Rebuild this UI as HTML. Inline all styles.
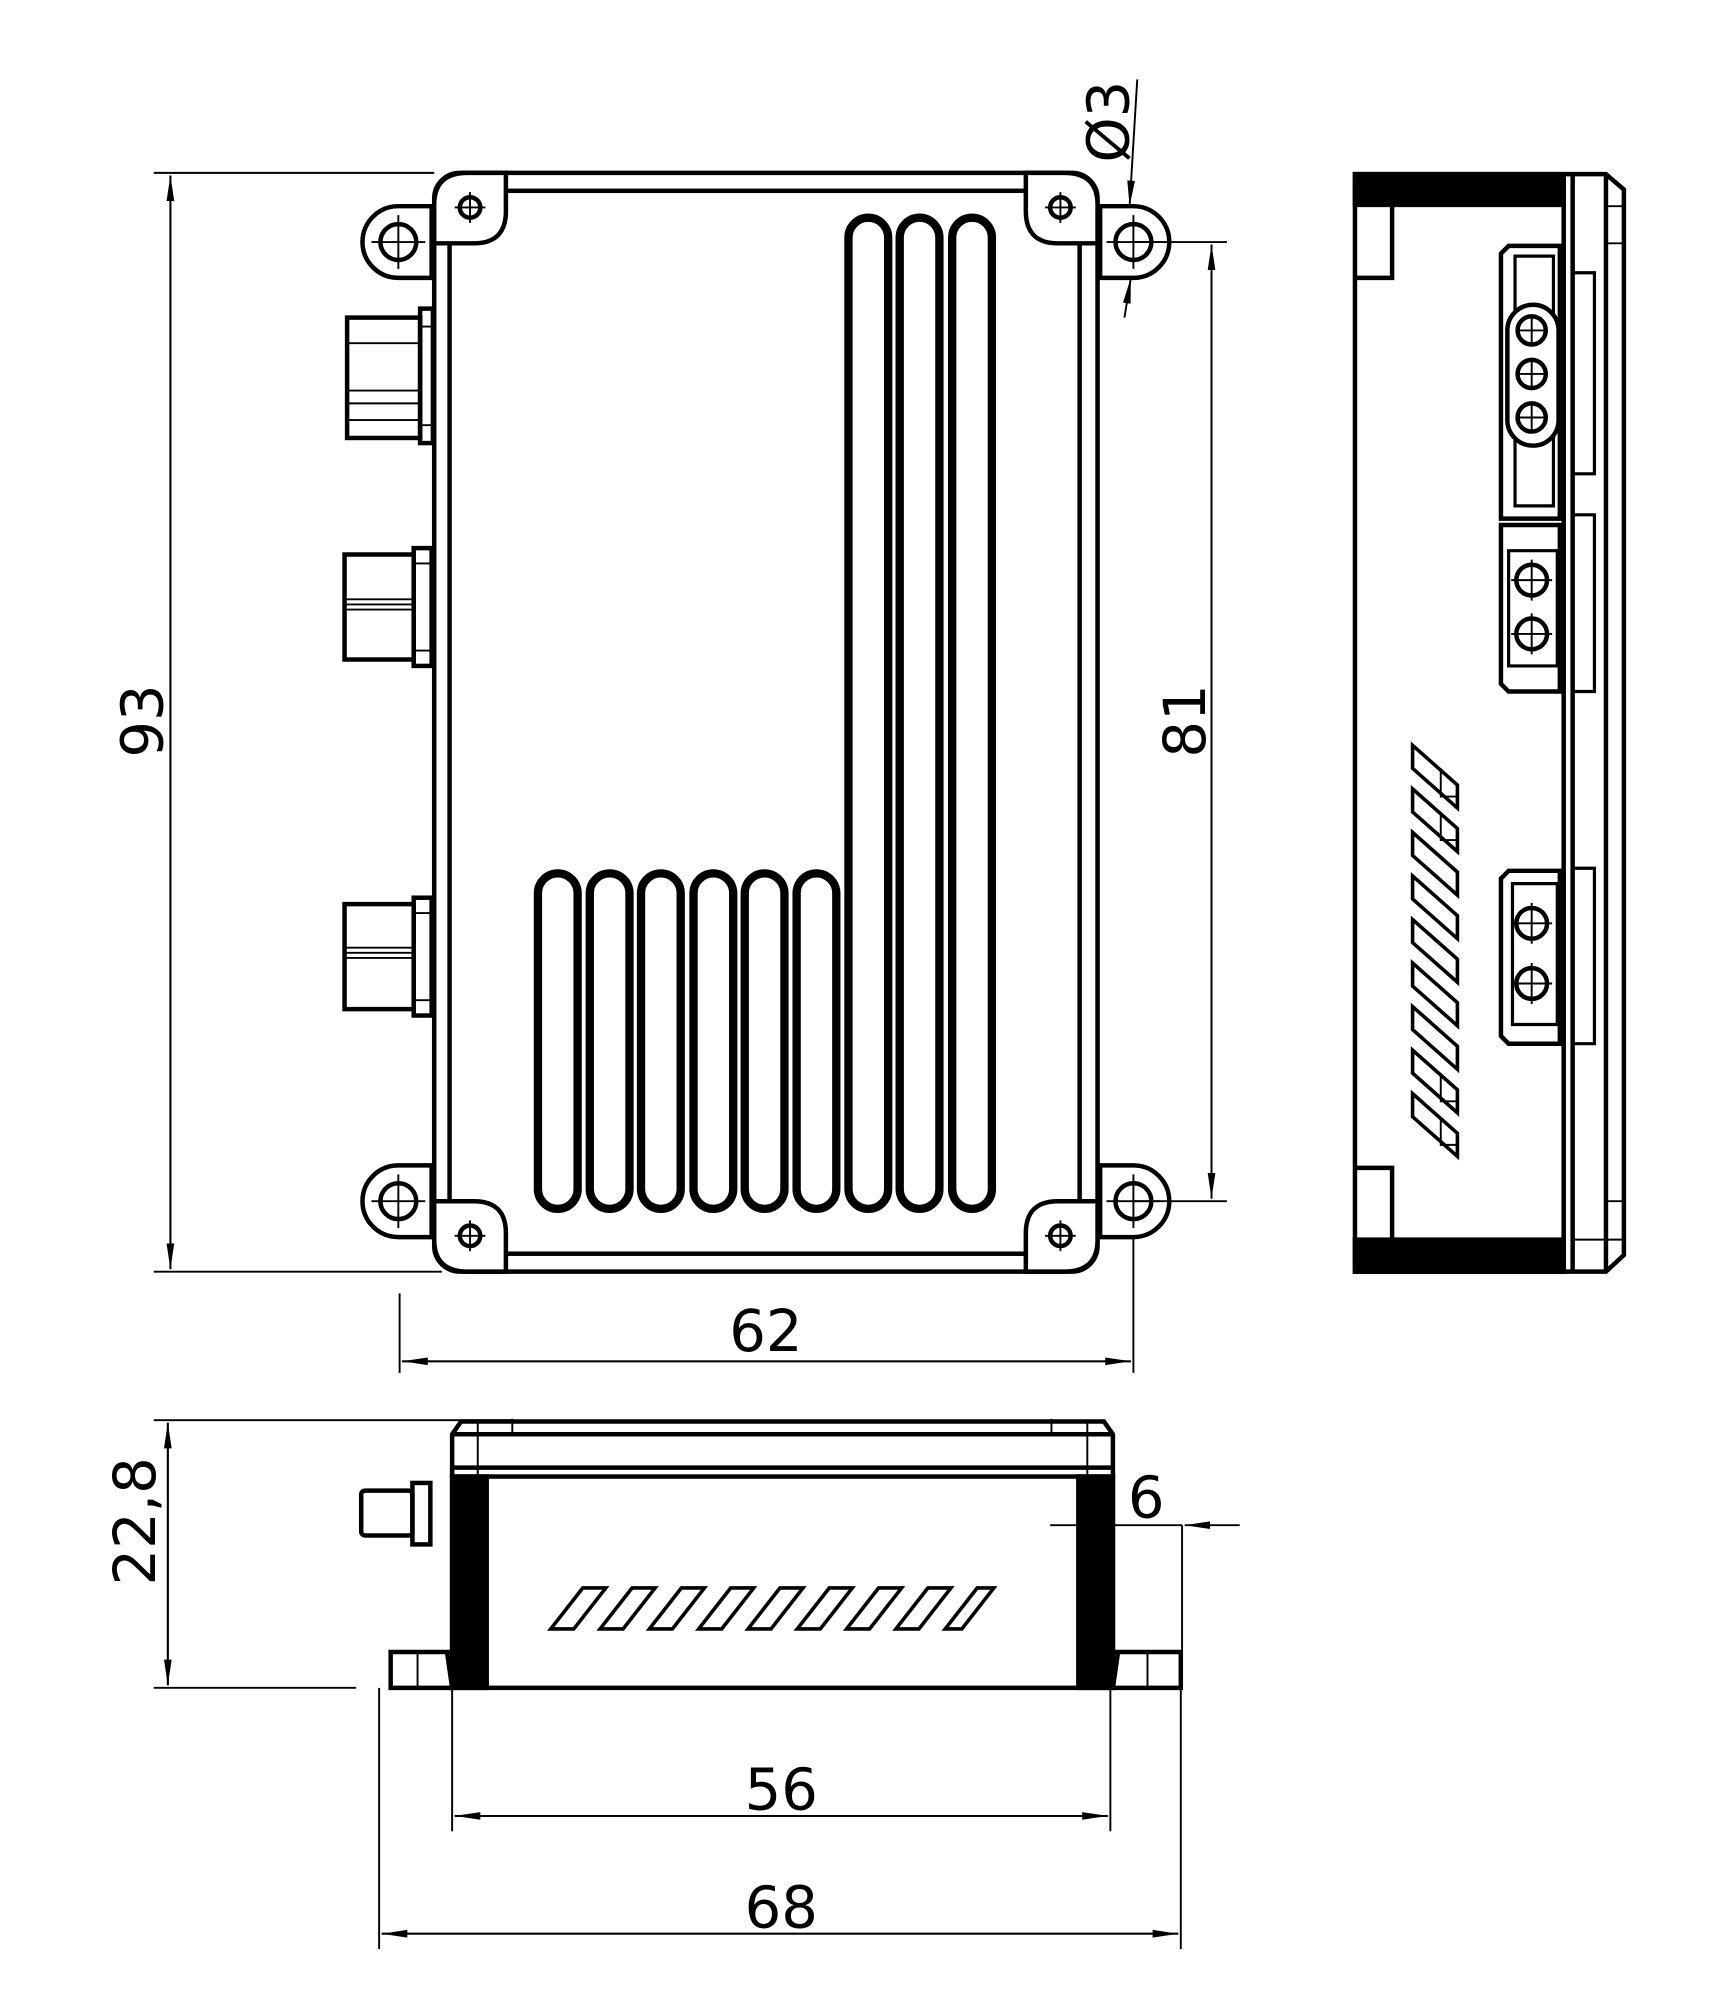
<!DOCTYPE html>
<html><head><meta charset="utf-8"><style>html,body{margin:0;padding:0;background:#fff}svg{display:block}</style></head>
<body>
<svg xmlns="http://www.w3.org/2000/svg" width="1720" height="2008" viewBox="0 0 1343 1568" font-family="DejaVu Sans, Liberation Sans, sans-serif">
<defs>
<marker id="a" viewBox="0 0 20 8" refX="20" refY="4" markerWidth="20" markerHeight="8" markerUnits="userSpaceOnUse" orient="auto"><path d="M0,1 L20,4 L0,7 Z" fill="#000"/></marker>
</defs>
<rect width="1343" height="1568" fill="#fff"/>
<g fill="none" stroke="#000" stroke-width="3.5">
<rect x="339" y="135" width="518" height="858" rx="20"/>
<rect x="351" y="149" width="492" height="830"/>
<path d="M339,190 L339,160 Q339,135 365,135 L395,135 L395,165 Q395,190 370,190 Z" fill="#fff"/>
<path d="M857,190 L857,160 Q857,135 831,135 L801,135 L801,165 Q801,190 826,190 Z" fill="#fff"/>
<path d="M339,938 L339,968 Q339,993 365,993 L395,993 L395,963 Q395,938 370,938 Z" fill="#fff"/>
<path d="M857,938 L857,968 Q857,993 831,993 L801,993 L801,963 Q801,938 826,938 Z" fill="#fff"/>
<path d="M337,161 L311,161 A28,28 0 0 0 311,217 L337,217 Z" fill="#fff"/>
<path d="M859,161 L885,161 A28,28 0 0 1 885,217 L859,217 Z" fill="#fff"/>
<path d="M337,910 L311,910 A28,28 0 0 0 311,966 L337,966 Z" fill="#fff"/>
<path d="M859,910 L885,910 A28,28 0 0 1 885,966 L859,966 Z" fill="#fff"/>
<circle cx="311" cy="189" r="14"/><circle cx="885" cy="189" r="14"/>
<circle cx="311" cy="938" r="14"/><circle cx="885" cy="938" r="14"/>
<circle cx="367" cy="162" r="8"/><circle cx="828" cy="162" r="8"/>
<circle cx="367" cy="965" r="8"/><circle cx="828" cy="965" r="8"/>
<g stroke-width="6.5">
<rect x="420" y="682" width="31" height="262" rx="15.5"/>
<rect x="460.5" y="682" width="31" height="262" rx="15.5"/>
<rect x="500.5" y="682" width="31" height="262" rx="15.5"/>
<rect x="541.5" y="682" width="31" height="262" rx="15.5"/>
<rect x="581.5" y="682" width="31" height="262" rx="15.5"/>
<rect x="622" y="682" width="31" height="262" rx="15.5"/>
<rect x="662.5" y="170" width="31" height="774" rx="15.5"/>
<rect x="702.5" y="170" width="31" height="774" rx="15.5"/>
<rect x="743.5" y="170" width="31" height="774" rx="15.5"/>
</g>
<rect x="271" y="248" width="57" height="94"/><rect x="328" y="241" width="10" height="105"/>
<rect x="269" y="433" width="54" height="82"/><rect x="323" y="428" width="14" height="92"/>
<rect x="269" y="706" width="54" height="82"/><rect x="323" y="701" width="14" height="92"/>
</g>
<g stroke="#000" stroke-width="1.5" fill="none">
<path d="M271,268H328M271,305H328M271,315H328M271,328H328M328,255H338M328,332H338"/>
<path d="M269,468H323M269,472H323M269,476H323M323,440H337M323,508H337"/>
<path d="M269,740H323M269,744H323M269,748H323M323,713H337M323,781H337"/>
<path d="M290,189H332M311,168V210M864,189H906M885,168V210M290,938H332M311,917V959M864,938H906M885,917V959"/>
<path d="M355,162H379M367,150V174M816,162H840M828,150V174M355,965H379M367,953V977M816,965H840M828,953V977"/>
<path d="M120,135H339M120,993H345"/>
<path d="M133,137V991" marker-end="url(#a)"/><path d="M133,991V137" marker-end="url(#a)"/>
<path d="M885,189H958M885,938H958"/>
<path d="M946,191V936" marker-end="url(#a)"/><path d="M946,936V191" marker-end="url(#a)"/>
<path d="M888,62L882,161" marker-end="url(#a)"/><path d="M878,248L883,217" marker-end="url(#a)"/>
<path d="M312,1010V1072M885,966V1072"/>
<path d="M314,1063H883" marker-end="url(#a)"/><path d="M883,1063H314" marker-end="url(#a)"/>
</g>
<g font-size="45" fill="#000">
<text transform="translate(127,563) rotate(-90)" text-anchor="middle">93</text>
<text transform="translate(941,563) rotate(-90)" text-anchor="middle">81</text>
<text transform="translate(881,95) rotate(-90)" text-anchor="middle">Ø3</text>
<text x="598" y="1055" text-anchor="middle">62</text>
<text transform="translate(121,1188) rotate(-90)" text-anchor="middle">22,8</text>
<text x="895" y="1185" text-anchor="middle">6</text>
<text x="610" y="1413" text-anchor="middle">56</text>
<text x="610" y="1505" text-anchor="middle">68</text>
</g>

<g fill="none" stroke="#000" stroke-width="3.5">
<path d="M353,1155V1120L360,1110H862L869,1120V1155"/>
<path d="M353,1120H869M353,1146H869"/>
<rect x="353" y="1153" width="516" height="165"/>
<path d="M353,1153H380V1318H353Z M842,1153H869V1318H842Z" fill="#000"/>
<path d="M353,1290H305V1318H353 L349,1290" />
<path d="M869,1290H922V1318H869 L873,1290"/>
<rect x="282" y="1164" width="40" height="35" rx="3"/><rect x="322" y="1158" width="14" height="48"/>
</g>
<g fill="none" stroke="#000" stroke-width="1.5">
<path d="M373,1110V1120M400,1108V1120M821,1108V1120M849,1110V1120M373,1120V1318M849,1120V1318"/>
<path d="M326,1290V1318M896,1290V1318"/>
<path d="M120,1109H400M120,1318H278"/>
<path d="M131,1111V1316" marker-end="url(#a)"/><path d="M131,1316V1111" marker-end="url(#a)"/>
<path d="M820,1191H923M923,1191V1290"/>
<path d="M968,1191H925" marker-end="url(#a)"/>
<path d="M296,1318V1522M353,1318V1430M867,1318V1430M922,1318V1522"/>
<path d="M355,1418H865" marker-end="url(#a)"/><path d="M865,1418H355" marker-end="url(#a)"/>
<path d="M298,1510H920" marker-end="url(#a)"/><path d="M920,1510H298" marker-end="url(#a)"/>
</g>
<g fill="none" stroke="#000" stroke-width="2.8">
<path d="M430,1272L455,1240H473L448,1272Z"/>
<path d="M468.5,1272L493.5,1240H511.5L486.5,1272Z"/>
<path d="M507,1272L532,1240H550L525,1272Z"/>
<path d="M545.5,1272L570.5,1240H588.5L563.5,1272Z"/>
<path d="M584,1272L609,1240H627L602,1272Z"/>
<path d="M622.5,1272L647.5,1240H665.5L640.5,1272Z"/>
<path d="M661,1272L686,1240H704L679,1272Z"/>
<path d="M699.5,1272L724.5,1240H742.5L717.5,1272Z"/>
<path d="M738,1272L763,1240H776L751,1272Z"/>
</g>

<g fill="none" stroke="#000" stroke-width="3.5">
<path d="M1058,136H1254L1268,148V980L1254,993H1058Z"/>
<rect x="1058" y="136" width="163" height="24" fill="#000"/>
<rect x="1058" y="968" width="163" height="25" fill="#000"/>
<path d="M1221,136V993M1228,136V993M1254,136V993"/>
<path d="M1058,217H1087V160M1058,912H1087V968"/>
<path d="M1172,198L1178,192H1218V405H1172Z"/>
<path d="M1183,200H1213V395H1183Z" stroke-width="2.5"/>
<rect x="1177" y="238" width="40" height="110" rx="20" fill="#fff"/>
<circle cx="1196" cy="258" r="11"/><circle cx="1196" cy="292" r="11"/><circle cx="1196" cy="326" r="11"/>
<path d="M1228,213H1245V370H1228" stroke-width="2.5"/>
<path d="M1172,410H1218V540H1178L1172,534Z"/>
<path d="M1178,430H1216V520H1178Z" stroke-width="2.5"/>
<circle cx="1196" cy="453" r="12"/><circle cx="1196" cy="495" r="12"/>
<path d="M1228,402H1245V540H1228" stroke-width="2.5"/>
<path d="M1178,680H1218V815H1178L1172,809V686Z"/>
<path d="M1181,690H1216V800H1181Z" stroke-width="2.5"/>
<circle cx="1196" cy="721" r="12"/><circle cx="1196" cy="768" r="12"/>
<path d="M1228,678H1245V815H1228" stroke-width="2.5"/>
</g>
<g fill="none" stroke="#000" stroke-width="1.5">
<path d="M1254,161H1268M1254,190H1268M1254,938H1268M1228,968H1268"/>
<path d="M1184,258H1208M1196,246V270M1184,292H1208M1196,280V304M1184,326H1208M1196,314V338"/>
<path d="M1180,453H1212M1196,437V469M1180,495H1212M1196,479V511M1180,721H1212M1196,705V737M1180,768H1212M1196,752V784"/>
</g>
<g fill="none" stroke="#000" stroke-width="2.8">
<path d="M1103,582V600L1138,631V613Z"/>
<path d="M1103,616V634L1138,665V647Z"/>
<path d="M1103,650V668L1138,699V681Z"/>
<path d="M1103,684V702L1138,733V715Z"/>
<path d="M1103,718V736L1138,767V749Z"/>
<path d="M1103,752V770L1138,801V783Z"/>
<path d="M1103,786V804L1138,835V817Z"/>
<path d="M1103,820V838L1138,869V851Z"/>
<path d="M1103,854V872L1138,903V885Z"/>
</g>
<g fill="none" stroke="#000" stroke-width="1.5">
<path d="M1125,600V622H1138M1125,634V656H1138M1125,838V860H1138M1125,872V894H1138"/>
</g>
</svg>
</body></html>
